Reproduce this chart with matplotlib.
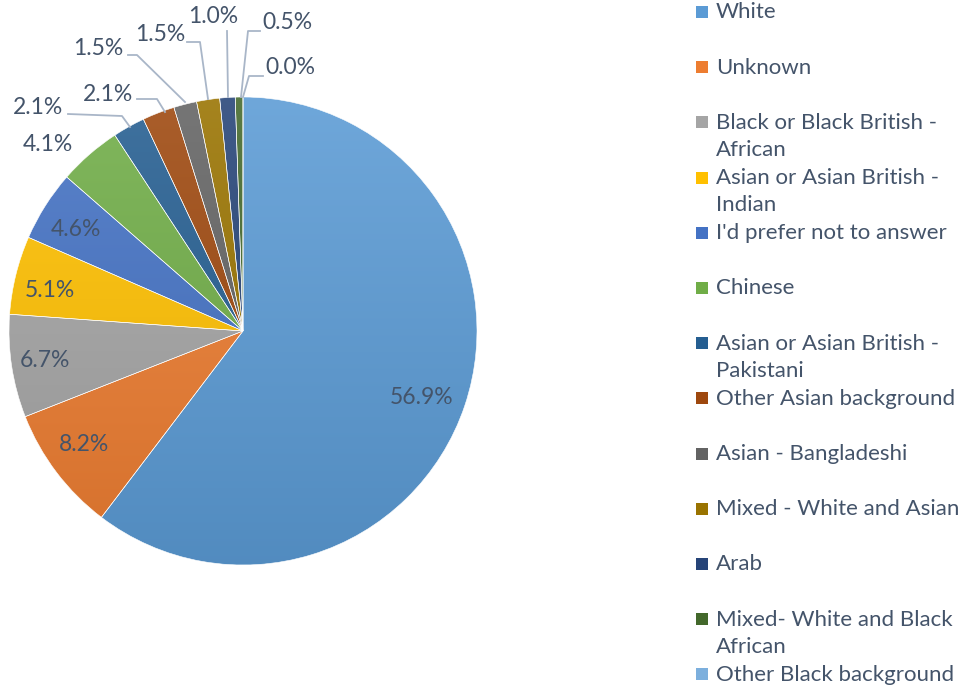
import numpy as np
import matplotlib.pyplot as plt
from matplotlib.colors import to_rgb

# Ethnicity breakdown (percent of respondents)
categories = [
    "White", "Unknown", "Black or Black British -\nAfrican",
    "Asian or Asian British -\nIndian", "I'd prefer not to answer", "Chinese",
    "Asian or Asian British -\nPakistani", "Other Asian background",
    "Asian - Bangladeshi", "Mixed - White and Asian", "Arab",
    "Mixed- White and Black\nAfrican", "Other Black background",
]
values = [56.9, 8.2, 6.7, 5.1, 4.6, 4.1, 2.1, 2.1, 1.5, 1.5, 1.0, 0.5, 0.0]
colors = ["#5B9BD5", "#ED7D31", "#A5A5A5", "#FFC000", "#4472C4", "#70AD47",
          "#255E91", "#9E480E", "#636363", "#997300", "#264478", "#43682B",
          "#7CAFDD"]

# label placement: (x, y) in pie units, plus optional leader line points
label_pos = [(0.765, -0.286), (-0.68, -0.487), (-0.846, -0.124), (-0.825, 0.175),
             (-0.714, 0.432), (-0.833, 0.795), (-0.876, 0.957), (-0.577, 1.009),
             (-0.62, 1.209), (-0.355, 1.265), (-0.128, 1.342), (0.188, 1.32),
             (0.201, 1.124)]
leaders_px = {
    6: [(68, 114), (122, 116), (130, 127)],
    7: [(137, 99), (157, 99), (165, 112)],
    8: [(128, 55), (137, 55), (185, 102)],
    9: [(187, 42), (200, 42), (208, 99)],
    10: [(227, 31), (228, 97)],
    11: [(260, 31), (248, 31), (241, 97)],
    12: [(263, 76), (249, 76), (243, 97)],
}

txt = "#44546A"
plt.rcParams['font.family'] = ['Lato', 'DejaVu Sans']

W, H = 971, 688
cx, cy, R = 243, 331, 234
fig = plt.figure(figsize=(W / 100, H / 100), dpi=100)
ax = fig.add_axes([(cx - R) / W, (H - cy - R) / H, 2 * R / W, 2 * R / H])

wedges, _ = ax.pie(values, colors=colors, startangle=90, counterclock=False,
                   radius=1, wedgeprops=dict(edgecolor='white', linewidth=0.4))
ax.axis('off')

# vertical gradient fill, lighter at top
grad = np.linspace(0, 1, 256)[:, None]
for w, c in zip(wedges, colors):
    base = np.array(to_rgb(c))
    top = base + (1 - base) * 0.12
    bot = base * 0.9
    img = bot[None, None, :] * grad[..., None] + top[None, None, :] * (1 - grad[..., None])
    img = np.repeat(img, 2, axis=1)
    im = ax.imshow(img, extent=[-1, 1, -1, 1], origin='upper', zorder=1.5,
                   aspect='auto', interpolation='bilinear')
    im.set_clip_path(w)
    w.set_zorder(2)
    w.set_facecolor('none')
ax.set_xlim(-1, 1)
ax.set_ylim(-1, 1)

def px2d(p):
    return ((p[0] - cx) / R, (cy - p[1]) / R)

for i, (v, (x, y)) in enumerate(zip(values, label_pos)):
    ax.text(x, y, f"{v:.1f}%", ha='center', va='center', fontsize=16.5,
            color=txt, clip_on=False, zorder=5)
for i, pts in leaders_px.items():
    d = [px2d(p) for p in pts]
    ax.plot([p[0] for p in d], [p[1] for p in d], color='#A9B6C8', lw=1.3,
            clip_on=False, zorder=4)

# legend on the right
for i, (name, c) in enumerate(zip(categories, colors)):
    yc = 12 + i * 55.2
    fig.patches.append(plt.Rectangle((696 / W, 1 - (yc + 6) / H), 12 / W, 12 / H,
                                     transform=fig.transFigure, facecolor=c,
                                     edgecolor='none'))
    fig.text(716 / W, 1 - (yc - 9.5) / H, name, ha='left', va='top',
             fontsize=16, color=txt, linespacing=1.45)

fig.savefig('out.png', dpi=100)
